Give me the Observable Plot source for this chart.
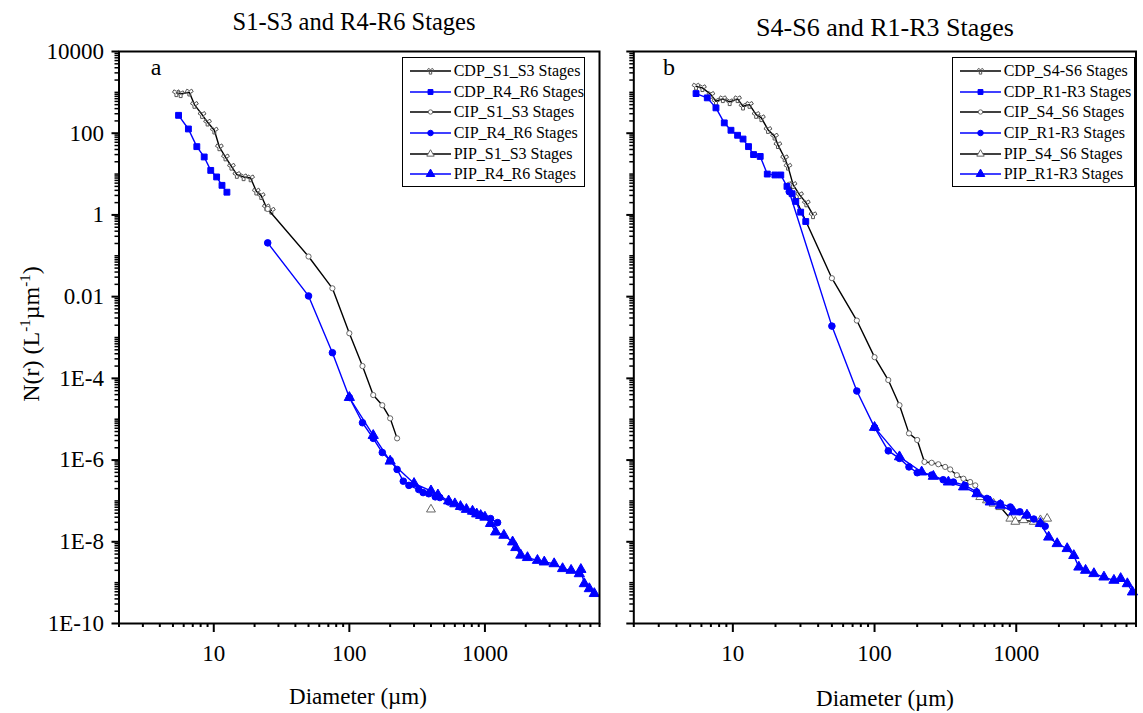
<!DOCTYPE html>
<html><head><meta charset="utf-8">
<script src="https://cdn.jsdelivr.net/npm/d3@7"></script>
<script src="https://cdn.jsdelivr.net/npm/@observablehq/plot@0.6"></script>
<style>
body{margin:0;background:#fff;}
#wrap, #wrap *{font-family:"Liberation Serif","Times New Roman",serif !important;}
#wrap{position:relative;width:1143px;height:713px;overflow:hidden;background:#fff;}
.abs{position:absolute;white-space:nowrap;color:#000;line-height:1.15;}
.legend{position:absolute;border:1.5px solid #000;background:#fff;box-sizing:border-box;padding-top:3px;overflow:hidden;}
.row{display:flex;align-items:center;height:20.7px;font-size:16px;white-space:nowrap;}
.row span{white-space:nowrap;}
.row svg{flex:none;}
</style></head><body><div id="wrap"></div>
<script>
// ---------- Panel a : S1-S3 and R4-R6 stages ----------
const cdpS13_d = [5.3, 5.7, 6.6, 7.2, 8.2, 9.0, 10.1, 11.0, 12.2, 13.5, 14.8, 16.6, 18.7, 20.6, 22.4, 24.4, 26.6];
const cdpS13_v = [970, 918, 1005, 502, 285, 185, 118, 46, 26, 15.4, 9.7, 8.5, 8.0, 3.8, 2.95, 1.56, 1.29];
const cdpR46_d = [5.5, 6.5, 7.5, 8.5, 9.5, 10.5, 11.5, 12.5];
const cdpR46_v = [274, 127, 46.9, 26.2, 12.3, 8.5, 5.3, 3.6];
const cipS13_d = [25, 50, 75, 100, 125, 150, 175, 200, 225];
const cipS13_v = [1.4, 0.096, 0.016, 1.27e-3, 2.0e-4, 3.9e-5, 2.2e-5, 1.05e-5, 3.4e-6];
const cipR46_d = [25, 50, 75, 100, 125, 150, 175, 200, 225, 250, 275, 325, 350, 385, 430, 465, 540, 660, 810, 930, 1100, 1240];
const cipR46_v = [0.207, 0.0104, 4.25e-4, 3.4e-5, 8.2e-6, 3.4e-6, 1.53e-6, 9.8e-7, 5.9e-7, 3.04e-7, 2.4e-7, 1.9e-7, 1.6e-7, 1.5e-7, 1.26e-7, 1.21e-7, 9.4e-8, 7.1e-8, 5.4e-8, 4.5e-8, 3.7e-8, 2.95e-8];
const pipS13_d = [400];
const pipS13_v = [6.2e-8];
const pipR46_d = [100, 150, 200, 300, 400, 450, 540, 600, 660, 730, 810, 870, 930, 1000, 1100, 1200, 1380, 1600, 1690, 1840, 2060, 2440, 2740, 3240, 3740, 4320, 4970, 5100, 5410, 5890, 6410];
const pipR46_v = [3.4e-5, 4.0e-6, 9.4e-7, 2.67e-7, 1.76e-7, 1.4e-7, 1.0e-7, 8.5e-8, 7.3e-8, 6.2e-8, 5.6e-8, 4.8e-8, 4.4e-8, 4.0e-8, 2.8e-8, 1.74e-8, 1.44e-8, 9.9e-9, 7.2e-9, 4.7e-9, 4.1e-9, 3.5e-9, 3.2e-9, 2.9e-9, 2.2e-9, 2.0e-9, 1.65e-9, 2.1e-9, 9.4e-10, 7.1e-10, 5.4e-10];

// ---------- Panel b : S4-S6 and R1-R3 stages ----------
const cdpS46_d = [5.5, 6.1, 7.0, 7.6, 8.5, 9.5, 10.8, 11.8, 13.1, 14.6, 15.9, 17.7, 19.7, 20.8, 23.2, 24.5, 26.6, 29.6, 33.0, 36.8];
const cdpS46_v = [1410, 1290, 883, 605, 692, 585, 692, 456, 502, 285, 237, 122, 84, 52, 24.8, 15.4, 5.5, 3.1, 1.95, 1.0];
const cdpR13_d = [5.5, 6.6, 7.6, 8.7, 9.7, 10.8, 11.8, 12.9, 14.0, 15.6, 17.5, 19.8, 21.8, 24.1, 26.2, 27.8, 30.1, 32.7];
const cdpR13_v = [933, 733, 417, 179, 118, 89, 72, 47, 30, 27, 10, 9.5, 9.5, 5.0, 3.3, 2.14, 1.17, 0.69];
const cipS46_d = [25, 50, 75, 100, 125, 150, 175, 200, 225, 253, 282, 315, 342, 381, 424, 473, 514];
const cipS46_v = [5.5, 0.0283, 2.6e-3, 3.3e-4, 9.1e-5, 2.2e-5, 4.5e-6, 3.1e-6, 9.0e-7, 8.6e-7, 7.9e-7, 6.8e-7, 5.9e-7, 4.27e-7, 3.5e-7, 2.9e-7, 2.4e-7];
const cipR13_d = [25, 50, 75, 100, 125, 150, 175, 200, 253, 305, 360, 435, 525, 621, 772, 908, 1060, 1190, 1330, 1480, 1600];
const cipR13_v = [3.7, 1.9e-3, 4.9e-5, 6.3e-6, 1.68e-6, 1.1e-6, 6.8e-7, 4.9e-7, 4.3e-7, 3.3e-7, 2.9e-7, 2.4e-7, 1.66e-7, 1.15e-7, 8.6e-8, 7.1e-8, 5.4e-8, 4.5e-8, 3.6e-8, 2.8e-8, 2.4e-8];
const pipS46_d = [557, 621, 692, 772, 908, 985, 1128, 1327, 1481, 1652];
const pipS46_v = [1.25e-7, 1.04e-7, 8.6e-8, 7.1e-8, 3.7e-8, 3.1e-8, 3.4e-8, 3.1e-8, 3.4e-8, 3.7e-8];
const pipR13_d = [100, 150, 215, 260, 332, 425, 528, 656, 772, 960, 1190, 1480, 1694, 1944, 2287, 2547, 2765, 3085, 3532, 4159, 4890, 5455, 6081, 6607];
const pipR13_v = [6.3e-6, 1.2e-6, 5.1e-7, 4.0e-7, 2.9e-7, 2.2e-7, 1.5e-7, 9.4e-8, 7.8e-8, 5.4e-8, 4.5e-8, 2.8e-8, 1.3e-8, 9.0e-9, 6.8e-9, 4.6e-9, 2.4e-9, 2.0e-9, 1.66e-9, 1.37e-9, 1.14e-9, 1.26e-9, 9.4e-10, 5.9e-10];

// ---------- labels & ticks ----------
const titles = ["S1-S3 and R4-R6 Stages", "S4-S6 and R1-R3 Stages"];
const panelLetters = ["a", "b"];
const legendA = ["CDP_S1_S3 Stages", "CDP_R4_R6 Stages", "CIP_S1_S3 Stages", "CIP_R4_R6 Stages", "PIP_S1_S3 Stages", "PIP_R4_R6 Stages"];
const legendB = ["CDP_S4-S6 Stages", "CDP_R1-R3 Stages", "CIP_S4_S6 Stages", "CIP_R1-R3 Stages", "PIP_S4_S6 Stages", "PIP_R1-R3 Stages"];
const xLabel = "Diameter (µm)";
const xMajorTicks = [10, 100, 1000];
const xMajorLabels = ["10", "100", "1000"];
const yMajorTicks = [1e4, 1e2, 1, 1e-2, 1e-4, 1e-6, 1e-8, 1e-10];
const yMajorLabels = ["10000", "100", "1", "0.01", "1E-4", "1E-6", "1E-8", "1E-10"];

const xMinorTicks = [];
for (let k = 0; k <= 3; k++) for (let m = 1; m <= 9; m++) { const v = m * 10 ** k; if (v >= 2 && v <= 7000 && !xMajorTicks.includes(v)) xMinorTicks.push(v); }
const yMinorTicks = [];
for (let k = -10; k <= 3; k++) for (let m = 1; m <= 9; m++) { const v = +(m * 10 ** k).toPrecision(3); if (!yMajorTicks.some(t => Math.abs(Math.log10(t) - Math.log10(v)) < 1e-6)) yMinorTicks.push(v); }

// style per series kind
const styles = [
  {color: "#000", symbol: "wye", r: 3.0, fill: "none", stroke: "#555"},
  {color: "#0000ff", symbol: "square", r: 3.3, fill: "#0000ff", stroke: "#0000ff"},
  {color: "#000", symbol: "circle", r: 2.6, fill: "#fff", stroke: "#666"},
  {color: "#0000ff", symbol: "circle", r: 3.3, fill: "#0000ff", stroke: "#0000ff"},
  {color: "#000", symbol: "triangle", r: 3.3, fill: "#fff", stroke: "#666"},
  {color: "#0000ff", symbol: "triangle", r: 3.8, fill: "#0000ff", stroke: "#0000ff"}
];

const seriesA = [[cdpS13_d, cdpS13_v], [cdpR46_d, cdpR46_v], [cipS13_d, cipS13_v], [cipR46_d, cipR46_v], [pipS13_d, pipS13_v], [pipR46_d, pipR46_v]];
const seriesB = [[cdpS46_d, cdpS46_v], [cdpR13_d, cdpR13_v], [cipS46_d, cipS46_v], [cipR13_d, cipR13_v], [pipS46_d, pipS46_v], [pipR13_d, pipR13_v]];

const FONT = "'Liberation Serif', 'Times New Roman', serif";

function makePanel(series, o) {
  const marks = [
    Plot.axisX({ticks: xMinorTicks, tickSize: 4, tickFormat: () => "", strokeWidth: 2, label: null}),
    Plot.axisX({ticks: xMajorTicks, tickSize: 9, tickPadding: 12, strokeWidth: 2, fontSize: 23,
      tickFormat: d => xMajorLabels[xMajorTicks.indexOf(d)], label: null}),
    Plot.axisY({ticks: yMinorTicks, tickSize: 4, tickFormat: () => "", strokeWidth: 1.5, label: null}),
    Plot.axisY({ticks: yMajorTicks, tickSize: 7, tickPadding: 8, strokeWidth: 2, fontSize: 23,
      tickFormat: o.showY ? (d => yMajorLabels[yMajorTicks.indexOf(d)]) : (() => ""), label: null})
  ];
  // draw black series first, then blue
  const order = [0, 2, 4, 1, 3, 5];
  for (const i of order) {
    const [ds, vs] = series[i];
    const st = styles[i];
    const data = ds.map((d, j) => ({d, v: vs[j]}));
    if (data.length > 1) marks.push(Plot.line(data, {x: "d", y: "v", stroke: st.color, strokeWidth: 1.4}));
    marks.push(Plot.dot(data, {x: "d", y: "v", symbol: st.symbol, r: st.r, fill: st.fill, stroke: st.stroke, strokeWidth: 1}));
  }
  marks.push(Plot.frame({stroke: "#000", strokeWidth: 2}));
  return Plot.plot({
    width: o.width, height: 713,
    marginLeft: o.ml, marginRight: o.mr, marginTop: 51, marginBottom: 90,
    style: {fontFamily: FONT, background: "transparent", overflow: "visible"},
    x: {type: "log", domain: [2, 7000]},
    y: {type: "log", domain: [1e-10, 1e4]},
    marks
  });
}

const wrap = document.getElementById("wrap");
function place(el, left, top) { el.style.position = "absolute"; el.style.left = left + "px"; el.style.top = top + "px"; el.setAttribute("font-family", FONT); wrap.appendChild(el); }

place(makePanel(seriesA, {width: 606, ml: 118.5, mr: 7, showY: true}), 0, 0);
place(makePanel(seriesB, {width: 543, ml: 33.3, mr: 7.5, showY: false}), 600, 0);

function addText(txt, cx, cy, size, extra) {
  const d = document.createElement("div");
  d.className = "abs";
  d.style.fontSize = size + "px";
  d.innerHTML = txt;
  d.style.left = cx + "px"; d.style.top = cy + "px";
  d.style.transform = "translate(-50%,-50%)" + (extra || "");
  wrap.appendChild(d);
}
addText(titles[0], 354, 22, 24.5);
addText(titles[1], 885, 28, 26);
addText(panelLetters[0], 156, 68, 24);
addText(panelLetters[1], 669, 68, 24);
addText(xLabel, 358, 697, 23);
addText(xLabel, 885, 699, 23);
addText("N(r) (L<sup style='font-size:15px'>-1</sup>µm<sup style='font-size:15px'>-1</sup>)", 31, 334, 24, " rotate(-90deg)");

function legend(labels, left) {
  const box = document.createElement("div");
  box.className = "legend";
  box.style.left = left + "px"; box.style.top = "56.7px";
  box.style.width = "183.5px"; box.style.height = "130px";
  labels.forEach((lab, i) => {
    const st = styles[i];
    const row = document.createElement("div");
    row.className = "row";
    const svg = d3.create("svg").attr("width", 50).attr("height", 20);
    svg.append("line").attr("x1", 7).attr("x2", 48).attr("y1", 10).attr("y2", 10).attr("stroke", st.color).attr("stroke-width", 1.4);
    const typ = {wye: d3.symbolWye, square: d3.symbolSquare, circle: d3.symbolCircle, triangle: d3.symbolTriangle}[st.symbol];
    svg.append("path").attr("transform", "translate(27.5,10)")
      .attr("d", d3.symbol(typ, Math.PI * st.r * st.r * 0.7)())
      .attr("fill", st.fill).attr("stroke", st.stroke);
    row.appendChild(svg.node());
    const t = document.createElement("span");
    t.textContent = lab;
    t.style.marginLeft = "1px";
    row.appendChild(t);
    box.appendChild(row);
  });
  wrap.appendChild(box);
}
legend(legendA, 401.7);
legend(legendB, 951.7);
</script>
</body></html>
